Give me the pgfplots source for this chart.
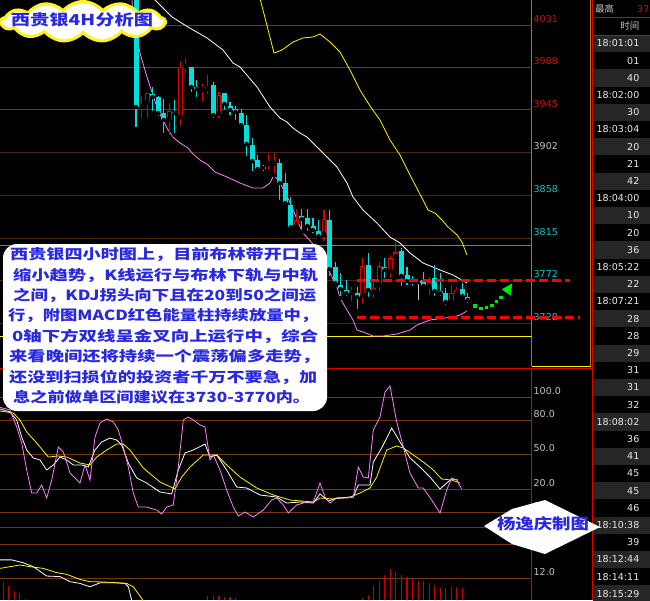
\documentclass[border=0pt]{standalone}
\usepackage{pgfplots}
\pgfplotsset{compat=1.18}
\usepackage{pgfplotstable}
\usepackage{fontspec}
\setmainfont{DejaVu Sans}
\newfontfamily\cjk{Noto Sans CJK SC}
\usetikzlibrary{shapes.symbols}
\definecolor{cy}{RGB}{0,222,222}
\definecolor{rd}{RGB}{225,0,0}
\definecolor{dojig}{RGB}{200,200,200}
\definecolor{gridA}{RGB}{115,58,15}
\definecolor{gridB}{RGB}{72,40,18}
\definecolor{axorange}{RGB}{190,110,20}
\definecolor{pinkl}{RGB}{255,125,255}
\definecolor{txtblue}{RGB}{40,40,225}
\definecolor{rowgray}{RGB}{38,38,38}
\definecolor{labred}{RGB}{205,15,15}
\definecolor{labcy}{RGB}{10,200,200}
\definecolor{labgray}{RGB}{195,195,195}
\definecolor{oliveline}{RGB}{140,140,0}
\definecolor{macdred}{RGB}{200,0,0}
\definecolor{grn}{RGB}{0,230,0}

\pgfplotstableread{
x o c h l
136.0 4070 3947.9 4075 3925.6
152.6 3961.1 3958.0 3968.2 3941.8
158.1 3958.0 3941.8 3959.0 3936.7
163.7 3941.8 3934.7 3956.0 3919.5
174.7 3942.8 3941.8 3955.0 3919.5
191.3 3988.4 3968.2 3988.4 3961.1
196.9 3968.2 3966.1 3975.3 3956.0
213.4 3970.2 3939.8 3973.2 3934.7
224.5 3962.1 3951.0 3962.1 3942.8
230.0 3948.9 3944.8 3952.9 3937.7
235.6 3945.9 3942.8 3948.9 3932.7
241.1 3941.8 3929.6 3945.9 3927.6
246.6 3929.6 3910.4 3939.8 3896.2
252.2 3909.3 3893.1 3916.4 3880.9
257.7 3894.1 3885.0 3899.2 3880.9
279.8 3891.1 3870.8 3895.1 3851.5
285.3 3870.8 3850.5 3880.9 3846.5
290.9 3848.5 3826.2 3856.6 3825.2
301.9 3837.3 3834.3 3844.4 3821.1
307.5 3835.3 3827.2 3844.4 3820.1
313.0 3827.2 3823.1 3835.3 3818.1
318.5 3822.1 3817.1 3833.3 3813.0
329.6 3833.3 3783.6 3843.4 3774.5
335.1 3785.6 3769.4 3790.7 3767.4
340.6 3767.4 3763.3 3779.5 3754.2
346.2 3762.3 3759.2 3772.4 3754.2
357.2 3759.2 3755.2 3765.3 3741.0
368.3 3787.6 3762.3 3799.8 3753.2
384.9 3785.6 3782.6 3794.7 3772.4
401.5 3801.8 3776.5 3804.9 3764.3
407.0 3777.5 3771.4 3785.6 3765.3
412.5 3772.4 3770.4 3776.5 3764.3
423.6 3772.4 3766.4 3780.5 3764.3
434.6 3774.5 3761.3 3787.6 3754.2
440.2 3761.3 3759.2 3779.5 3754.2
445.7 3759.2 3750.1 3764.3 3745.1
462.3 3763.3 3756.2 3769.4 3755.2
467.8 3755.2 3752.1 3759.2 3747.1
}\cyandata

\pgfplotstableread{
x o c h l
141.5 3947.9 3949.9 3959.0 3934.7
147.1 3951.9 3962.1 3962.1 3934.7
169.2 3934.7 3943.8 3951.9 3917.4
180.3 3937.7 3988.4 3994.5 3927.6
185.8 3988.4 3990.5 3997.6 3980.3
202.4 3965.1 3966.1 3971.2 3951.9
207.9 3966.1 3968.2 3980.3 3959.0
219.0 3940.8 3960.0 3963.1 3934.7
268.7 3890.1 3891.1 3901.2 3882.0
274.3 3890.1 3891.1 3901.2 3878.9
296.4 3826.2 3833.3 3844.4 3825.2
324.0 3818.1 3834.3 3843.4 3810.0
351.7 3759.2 3761.3 3765.3 3749.1
362.8 3756.2 3786.6 3794.7 3746.1
373.8 3760.3 3764.3 3772.4 3752.1
379.3 3767.4 3786.6 3790.7 3759.2
390.4 3781.6 3794.7 3797.8 3772.4
395.9 3795.7 3800.8 3811.0 3790.7
429.1 3765.3 3770.4 3775.5 3755.2
451.2 3750.1 3759.2 3767.4 3747.1
456.8 3759.2 3762.3 3765.3 3755.2
}\reddata

\pgfplotstableread{
x o c h l
263.2 3886.0 3886.0 3889.1 3880.9
418.1 3770.4 3770.4 3770.4 3750.1
}\dojidata

\begin{document}
\begin{tikzpicture}
\fill[black] (0pt,0pt) rectangle (650pt,-600pt);

% ---------------- main price panel ----------------
\begin{axis}[
  at={(0pt,0pt)}, anchor=north west, scale only axis,
  width=531.5pt, height=366pt,
  xmin=0, xmax=531.5, ymin=3685.2, ymax=4056.4,
  axis x line=none, axis y line*=right,
  y axis line style={draw=axorange, line width=0.8pt},
  major tick length=0pt,
  ytick={3685,3728,3772,3815,3858,3902},
  yticklabels={\textcolor{labcy}{3685},\textcolor{labcy}{3728},\textcolor{labcy}{3772},\textcolor{labcy}{3815},\textcolor{labcy}{3858},\textcolor{labgray}{3902}},
  extra y ticks={3945,3988,4031},
  extra y tick labels={\textcolor{labred}{3945},\textcolor{labred}{3988},\textcolor{labred}{4031}},
  extra y tick style={grid style={draw=gridA, line width=0.8pt}},
  ymajorgrids, grid style={draw=gridB, line width=0.8pt},
  yticklabel style={anchor=south west, inner sep=0pt, xshift=2pt, yshift=2.5pt, font=\fontsize{9.5}{10}\selectfont},
]
% level lines
\addplot[oliveline, line width=0.9pt] coordinates {(0,3807) (531.5,3807)};
\addplot[yellow, line width=0.9pt] coordinates {(0,3715.6) (531.5,3715.6)};
% Bollinger bands
\addplot[yellow, line width=0.8pt] coordinates {(259,4061.5) (263,4046.3) (274,4002.6) (282,4005.7) (293,4013.8) (303,4017.9) (313,4018.9) (320,4021.9) (330,4013.8) (340,4003.6) (350,3985.4) (360,3965.1) (370,3948.9) (380,3934.7) (390,3914.4) (400,3899.2) (410,3878.9) (423,3853.6) (428,3843.4) (435,3840.3) (442,3833.3) (448,3826.2) (457,3818.1) (462,3810.9) (467,3797.8)};
\addplot[white, line width=0.8pt] coordinates {(150,4061.5) (155,4056.4) (172,4039.2) (188,4029.0) (207,4017.9) (223,4005.7) (233,3992.5) (240,3988.4) (257,3968.2) (270,3947.9) (280,3936.7) (287,3932.7) (293,3926.6) (300,3921.5) (307,3917.4) (323,3901.2) (337,3887.0) (347,3870.8) (353,3856.6) (363,3843.4) (377,3830.2) (390,3816.0) (400,3810.0) (410,3799.8) (423,3789.7) (440,3782.6) (453,3777.5) (467,3769.4)};
\addplot[pinkl, line width=0.8pt] coordinates {(131,4061.5) (132,4056.4) (134,4022.9) (138,4010.8) (142,3995.5) (147,3978.3) (153,3960.0) (158,3944.8) (163,3934.7) (168,3924.6) (174,3916.4) (180,3911.4) (188,3906.3) (192,3901.2) (200,3894.1) (208,3889.1) (215,3881.9) (227,3876.9) (240,3870.8) (253,3865.7) (263,3865.7) (270,3870.8) (274,3878.9) (280,3870.8) (285,3861.7) (292,3846.5) (298,3831.2) (303,3820.1) (312,3810.0) (320,3799.8) (330,3779.5) (337,3765.3) (340,3754.2) (347,3742.0) (353,3731.9) (357,3721.7) (363,3719.7) (373,3715.6) (383,3715.6) (397,3717.7) (410,3721.7) (417,3726.8) (430,3731.9) (453,3734.9) (460,3736.9) (467,3741.0)};
% wicks
\addplot[only marks, mark=none, error bars/.cd, y dir=plus, y explicit, error mark=none, error bar style={draw=cy, line width=1.1pt}] table[x=x, y=l, y error plus expr=\thisrow{h}-\thisrow{l}] {\cyandata};
\addplot[only marks, mark=none, error bars/.cd, y dir=plus, y explicit, error mark=none, error bar style={draw=rd, line width=1.1pt}] table[x=x, y=l, y error plus expr=\thisrow{h}-\thisrow{l}] {\reddata};
\addplot[only marks, mark=none, error bars/.cd, y dir=plus, y explicit, error mark=none, error bar style={draw=dojig, line width=1.1pt}] table[x=x, y=l, y error plus expr=\thisrow{h}-\thisrow{l}] {\dojidata};
% bodies
\addplot[only marks, mark=none, error bars/.cd, y dir=plus, y explicit, error mark=none, error bar style={draw=cy, line width=5pt}] table[x=x, y=c, y error plus expr={max(\thisrow{o}-\thisrow{c},1)}] {\cyandata};
\addplot[only marks, mark=none, error bars/.cd, y dir=plus, y explicit, error mark=none, error bar style={draw=rd, line width=5pt}] table[x=x, y=o, y error plus expr={max(\thisrow{c}-\thisrow{o},1)}] {\reddata};
\addplot[only marks, mark=none, error bars/.cd, y dir=plus, y explicit, error mark=none, error bar style={draw=black, line width=2.8pt}] table[x=x, y expr=\thisrow{o}+1.1, y error plus expr={max(\thisrow{c}-\thisrow{o}-2.2,0)}] {\reddata};
\addplot[only marks, mark=none, error bars/.cd, x dir=both, x fixed=2.5, error mark=none, error bar style={draw=dojig, line width=1.1pt}] table[x=x, y=o] {\dojidata};
\end{axis}

% ---------------- KDJ panel ----------------
\begin{axis}[
  at={(0pt,-368pt)}, anchor=north west, scale only axis,
  width=531.5pt, height=159pt,
  xmin=0, xmax=531.5, ymin=-13.04, ymax=125.2,
  axis x line=none, axis y line*=right,
  y axis line style={draw=rd, line width=0.9pt},
  major tick length=0pt,
  ytick={0,20,50,80,100},
  yticklabels={0,20.0,50.0,80.0,100.0},
  ymajorgrids, grid style={draw=gridA, line width=0.8pt},
  yticklabel style={anchor=south west, inner sep=0pt, xshift=2pt, yshift=2.5pt, text=labgray, font=\fontsize{9.5}{10}\selectfont},
]
\addplot[yellow, line width=0.8pt] coordinates {(0,87.8) (13.3,86.1) (20,80.0) (26.7,69.6) (36.7,60.0) (48.3,47.8) (58.3,48.7) (66.7,47.8) (80,42.6) (90,40.9) (96.7,47.8) (106.7,53.9) (116.7,59.1) (123.3,59.1) (130,53.9) (143.3,38.3) (160,26.1) (175,20.0) (181.7,30.4) (190,39.1) (203.3,49.6) (216.7,49.6) (226.7,40.9) (240,30.4) (256.7,20.9) (273.3,14.8) (290,10.4) (313.3,8.7) (320,12.2) (333.3,11.3) (350,13.0) (360,16.5) (370,20.9) (376.7,30.4) (386.7,53.9) (396.7,57.4) (403.3,55.7) (413.3,49.6) (423.3,43.5) (433.3,36.5) (441.7,28.7) (451.7,27.8) (460,25.2)};
\addplot[white, line width=0.8pt] coordinates {(0,89.6) (10,87.0) (16.7,80.0) (21.7,65.2) (26.7,53.9) (33.3,47.0) (40,45.2) (46.7,36.5) (53.3,40.9) (60,47.8) (66.7,45.2) (73.3,40.9) (81.7,40.9) (88.3,39.1) (95,53.9) (101.7,60.9) (110,64.3) (116.7,62.6) (121.7,58.3) (128.3,42.6) (136.7,29.6) (146.7,25.2) (160,17.4) (171.7,15.7) (178.3,36.5) (185,51.3) (193.3,53.9) (205,59.1) (210,47.8) (216.7,49.6) (226.7,36.5) (236.7,21.7) (246.7,20.9) (260,14.8) (276.7,13.0) (286.7,7.8) (300,8.7) (313.3,7.8) (320,15.7) (328.3,9.6) (336.7,12.2) (353.3,13.0) (358.3,23.5) (370,23.5) (373.3,43.5) (381.7,55.7) (391.7,73.0) (400,60.9) (410,47.0) (420,39.1) (430,30.4) (440,20.0) (446.7,25.2) (451.7,28.7) (458.3,27.8)};
\addplot[pinkl, line width=0.8pt] coordinates {(0,91.0) (10,88.7) (16.7,73.9) (21.7,60.0) (26.7,36.5) (31.7,16.5) (36.7,16.5) (41.7,23.5) (46.7,12.2) (51.7,27.8) (58.3,56.5) (63.3,52.2) (70,33.9) (80,25.2) (85,40.9) (90,27.8) (95,65.2) (100,77.4) (106.7,80.9) (113.3,78.3) (118.3,71.3) (123.3,56.5) (128.3,39.1) (133.3,16.5) (138.3,4.3) (146.7,4.3) (156.7,1.7) (161.7,-1.7) (166.7,4.3) (173.3,6.1) (178.3,39.1) (183.3,80.0) (188.3,82.6) (193.3,80.0) (200,75.7) (205,73.9) (210,45.2) (213.3,49.6) (220,36.5) (226.7,19.1) (233.3,4.3) (238.3,-3.5) (245,0) (253.3,-4.3) (263.3,1.7) (271.7,10.4) (276.7,12.2) (283.3,6.1) (288.3,-0.9) (296.7,6.1) (306.7,8.7) (313.3,8.7) (320,25.2) (325,13.0) (330,7.8) (336.7,12.2) (346.7,12.2) (353.3,13.0) (358.3,39.1) (363.3,30.4) (368.3,29.6) (373.3,71.3) (380,82.6) (385,104.3) (390,109.6) (396.7,78.3) (403.3,56.5) (410,33.9) (418.3,20.9) (423.3,20.9) (431.7,10.4) (440,-0.9) (446.7,19.1) (451.7,29.6) (456.7,27.8) (461.7,20.0)};
\end{axis}

% ---------------- MACD panel ----------------
\begin{axis}[
  at={(0pt,-527pt)}, anchor=north west, scale only axis,
  width=531.5pt, height=73pt,
  xmin=0, xmax=531.5, ymin=4.24, ymax=30,
  axis x line=none, axis y line*=right,
  y axis line style={draw=rd, line width=0.9pt},
  major tick length=0pt,
  ytick={12,24}, yticklabels={12.0,24.0},
  ymajorgrids, grid style={draw=gridA, line width=0.8pt},
  yticklabel style={anchor=south west, inner sep=0pt, xshift=2pt, yshift=2.5pt, text=labgray, font=\fontsize{9.5}{10}\selectfont},
]
\addplot[ycomb, draw=macdred, line width=1.1pt, mark=none] coordinates {(3.3,10.6) (8.8,9.2) (14.4,7.5) (19.9,6.8) (25.4,4.7) (207.9,5.6) (213.4,5.7) (219.0,5.8) (224.5,5.4) (230.0,5.2) (235.6,4.9) (362.8,4.8) (368.3,6.0) (373.8,9.2) (379.3,10.9) (384.9,13.1) (390.4,15.1) (395.9,14.1) (401.5,13.1) (407.0,12.2) (412.5,11.6) (418.1,10.9) (423.6,10.9) (429.1,10.2) (434.6,9.5) (440.2,8.5) (445.7,8.5) (451.2,8.8) (456.8,8.8) (462.3,8.5)};
\addplot[white, line width=0.8pt] coordinates {(0,18.4) (11.7,18.4) (23.3,17.4) (33.3,16.0) (46.7,12.7) (60,12.5) (70,10.7) (80,10.1) (90,8.9) (100,10.3) (116.7,10.3) (125,10.1) (128.3,8.9) (131.7,4.2) (133,2.5)};
\addplot[yellow, line width=0.8pt] coordinates {(0,15.4) (10,16.0) (20,16.6) (30,16.0) (43.3,15.4) (56.7,13.9) (66.7,13.3) (80,11.5) (90,10.7) (103.3,10.6) (126.7,10.1) (133.3,8.9) (141.7,4.8) (145,2.5)};
\end{axis}

% ---------------- decorations (pixel coordinates, y down) ----------------
\begin{scope}[x=1pt, y=-1pt]
% frames
\draw[axorange, line width=0.8pt] (590.5,0) -- (590.5,366);
\draw[yellow, line width=1pt] (531.5,366) -- (590.5,366);
\draw[rd, line width=1pt] (0,368) -- (592,368);
\draw[rd, line width=1pt] (0,527) -- (592,527);
\draw[rd, line width=1.6pt] (592.5,0) -- (592.5,600);
% time table
\foreach \i in {0,2,...,32} {\fill[rowgray] (593.3,34.9+17.2*\i) rectangle (650,34.9+17.2*\i+17.2);}
\draw[rd, line width=1pt] (593,17) -- (650,17);
\draw[rd, line width=1pt] (593,35) -- (650,35);
\node[anchor=west, inner sep=0pt, text=labgray] at (595,9) {\cjk\fontsize{9.5}{10}\selectfont 最高};
\node[anchor=west, inner sep=0pt, text=rd] at (637,9) {\fontsize{9.5}{10}\selectfont 37};
\node[anchor=east, inner sep=0pt, text=labgray] at (639.5,26) {\cjk\fontsize{9.5}{10}\selectfont 时间};
\foreach \i/\t in {0/18:01:01,1/01,2/40,3/18:02:00,4/30,5/18:03:04,6/20,7/21,8/42,9/18:04:00,10/10,11/20,12/36,13/18:05:22,14/22,15/18:07:21,16/28,17/28,18/29,19/31,20/31,21/32,22/18:08:02,23/36,24/41,25/45,26/45,27/46,28/18:10:38,29/39,30/18:12:44,31/18:14:11,32/18:15:29}
  {\node[anchor=east, inner sep=0pt, text=white!92!black] at (639.5,43.5+17.2*\i) {\fontsize{9.5}{10}\selectfont \t};}
% red dashed levels
\draw[red, line width=2.8pt, dash pattern=on 9pt off 4pt] (357,280.5) -- (570,280.5);
\draw[red, line width=2.8pt, dash pattern=on 9pt off 4pt] (357,317.3) -- (580,317.3);
% green dotted arrow
\foreach \px/\py in {475/306,481/308.7,486.7/307.3,492/305.3,496.7/301.7,501/297.7}
  {\fill[grn] (\px-1.6,\py-1.6) rectangle (\px+1.6,\py+1.6);}
\fill[grn] (501.7,289.3) -- (512.3,283.3) -- (510.7,295.7) -- cycle;
% text box
\fill[white, rounded corners=14pt] (3,244) rectangle (327,411);
\begin{scope}[every node/.style={anchor=west, inner sep=0pt, text=txtblue}]
\node at (10,255) {\resizebox{308pt}{\height}{\cjk\bfseries\fontsize{14}{14}\selectfont 西贵银四小时图上，目前布林带开口呈}};
\node at (13,275.4) {\resizebox{305pt}{\height}{\cjk\bfseries\fontsize{14}{14}\selectfont 缩小趋势，K线运行与布林下轨与中轨}};
\node at (13,295.7) {\resizebox{303pt}{\height}{\cjk\bfseries\fontsize{14}{14}\selectfont 之间，KDJ拐头向下且在20到50之间运}};
\node at (8,316) {\resizebox{310pt}{\height}{\cjk\bfseries\fontsize{14}{14}\selectfont 行，附图MACD红色能量柱持续放量中，}};
\node at (12,336.4) {\resizebox{306pt}{\height}{\cjk\bfseries\fontsize{14}{14}\selectfont 0轴下方双线呈金叉向上运行中，综合}};
\node at (9,356.7) {\resizebox{311pt}{\height}{\cjk\bfseries\fontsize{14}{14}\selectfont 来看晚间还将持续一个震荡偏多走势，}};
\node at (9,377.1) {\resizebox{308pt}{\height}{\cjk\bfseries\fontsize{14}{14}\selectfont 还没到扫损位的投资者千万不要急，加}};
\node at (13,397.4) {\resizebox{297pt}{\height}{\cjk\bfseries\fontsize{14}{14}\selectfont 息之前做单区间建议在3730-3770内。}};
\end{scope}
% title cloud
\node[cloud, cloud puffs=13, cloud puff arc=100, aspect=4.2, fill=white, draw=yellow!90!white, line width=3pt, inner sep=0pt, minimum width=164pt, minimum height=40pt] at (83,21.5) {};
\node[inner sep=0pt, text=txtblue] at (82,19.5) {\resizebox{142pt}{\height}{\cjk\bfseries\fontsize{15}{15}\selectfont 西贵银4H分析图}};
% author tag
\fill[white] (484,526) -- (512,509) -- (545,500) -- (600,527) -- (545,554) -- (512,544) -- cycle;
\node[inner sep=0pt, text=txtblue] at (543,524) {\resizebox{92pt}{\height}{\cjk\bfseries\fontsize{15}{15}\selectfont 杨逸庆制图}};
\end{scope}
\pgfresetboundingbox
\path[use as bounding box] (0pt,0pt) rectangle (650pt,-600pt);
\end{tikzpicture}
\end{document}
